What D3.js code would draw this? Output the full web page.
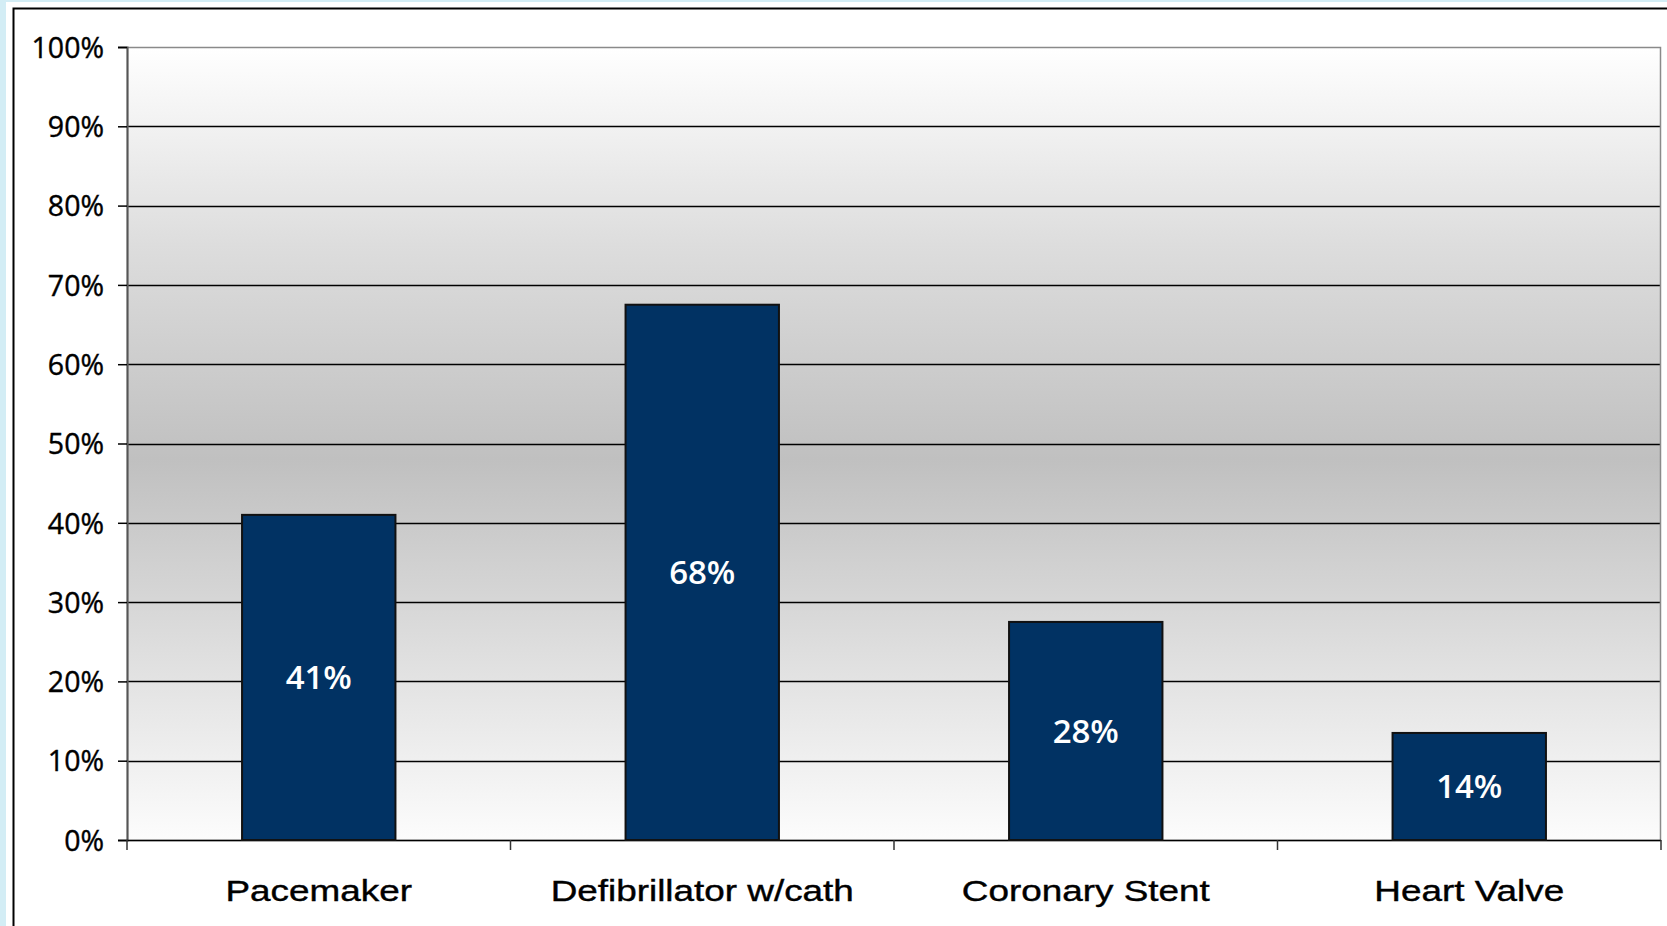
<!DOCTYPE html>
<html>
<head>
<meta charset="utf-8">
<script src="https://cdn.jsdelivr.net/npm/d3@7"></script>
<style>
  html, body { margin: 0; padding: 0; background: #ffffff; overflow: hidden; }
  svg { display: block; }
</style>
</head>
<body>
<svg id="chart" width="1667" height="926"></svg>
<script>
// ---- data ----
const categories = ["Pacemaker", "Defibrillator w/cath", "Coronary Stent", "Heart Valve"];
const values = [0.41, 0.675, 0.275, 0.135];
const valueLabels = ["41%", "68%", "28%", "14%"];
const yTicks = [0, 0.1, 0.2, 0.3, 0.4, 0.5, 0.6, 0.7, 0.8, 0.9, 1.0];
const yTickLabels = ["0%", "10%", "20%", "30%", "40%", "50%", "60%", "70%", "80%", "90%", "100%"];

// ---- layout ----
const W = 1667, H = 926;
const plot = { left: 127, right: 1661, top: 47, bottom: 840 };

const svg = d3.select("#chart");

// page background: light blue strip + framed white panel
svg.append("rect").attr("x", 0).attr("y", 0).attr("width", W).attr("height", H).attr("fill", "#d3edf5");
svg.append("rect").attr("x", 6).attr("y", 2).attr("width", W).attr("height", H).attr("fill", "#ffffff");
svg.append("rect").attr("x", 13.5).attr("y", 8.5).attr("width", W + 10).attr("height", H + 10)
  .attr("fill", "#ffffff").attr("stroke", "#000").attr("stroke-width", 2);

// gradient for plot area
const defs = svg.append("defs");
const grad = defs.append("linearGradient").attr("id", "bg").attr("x1", 0).attr("y1", 0).attr("x2", 0).attr("y2", 1);
grad.append("stop").attr("offset", "0%").attr("stop-color", "#ffffff");
grad.append("stop").attr("offset", "25%").attr("stop-color", "#dddddd");
grad.append("stop").attr("offset", "52%").attr("stop-color", "#c0c0c0");
grad.append("stop").attr("offset", "80%").attr("stop-color", "#e3e3e3");
grad.append("stop").attr("offset", "100%").attr("stop-color", "#fcfcfc");

const x = d3.scaleBand().domain(categories).range([plot.left, plot.right]).padding(0);
const y = d3.scaleLinear().domain([0, 1]).range([plot.bottom, plot.top]);

// plot background
svg.append("rect")
  .attr("x", plot.left).attr("y", plot.top)
  .attr("width", plot.right - plot.left).attr("height", plot.bottom - plot.top)
  .attr("fill", "url(#bg)");

// gridlines
svg.append("g").selectAll("line").data(yTicks.filter(t => t > 0 && t < 1)).join("line")
  .attr("x1", plot.left).attr("x2", plot.right)
  .attr("y1", d => Math.round(y(d)) + 0.5).attr("y2", d => Math.round(y(d)) + 0.5)
  .attr("stroke", "#000").attr("stroke-width", 1.3);

// plot border (gray)
svg.append("rect")
  .attr("x", plot.left + 0.5).attr("y", plot.top + 0.5)
  .attr("width", plot.right - plot.left - 1).attr("height", plot.bottom - plot.top)
  .attr("fill", "none").attr("stroke", "#8a8a8a").attr("stroke-width", 1.5);

// y axis
const yAxis = d3.axisLeft(y).tickValues(yTicks).tickSize(9).tickPadding(14)
  .tickFormat((d, i) => yTickLabels[i]);
const gy = svg.append("g").attr("transform", `translate(${plot.left},0)`).call(yAxis);
gy.select(".domain").attr("stroke", "#555").attr("stroke-width", 2);
gy.selectAll(".tick line").attr("stroke", "#000").attr("stroke-width", 1.5);
gy.selectAll(".tick text")
  .attr("font-family", "'Open Sans', sans-serif").attr("font-size", 28.5).attr("font-weight", 500)
  .attr("fill", "#000").attr("stroke", "#000").attr("stroke-width", 0.4).attr("dy", "0.36em");

// x axis baseline + category ticks
const bounds = categories.map(c => x(c)).concat([plot.right]);
svg.append("line").attr("x1", plot.left).attr("x2", plot.right)
  .attr("y1", plot.bottom + 0.5).attr("y2", plot.bottom + 0.5)
  .attr("stroke", "#000").attr("stroke-width", 1.5);
svg.append("g").selectAll("line").data(bounds).join("line")
  .attr("x1", d => d).attr("x2", d => d)
  .attr("y1", plot.bottom).attr("y2", plot.bottom + 10)
  .attr("stroke", "#333").attr("stroke-width", 1.5);

// bars
const barW = x.bandwidth() * 0.4;
svg.append("g").selectAll("rect").data(values).join("rect")
  .attr("x", (d, i) => x(categories[i]) + (x.bandwidth() - barW) / 2)
  .attr("y", d => y(d))
  .attr("width", barW)
  .attr("height", d => y(0) - y(d))
  .attr("fill", "#013263").attr("stroke", "#111").attr("stroke-width", 2);

// value labels
svg.append("g").selectAll("text").data(values).join("text")
  .attr("x", (d, i) => x(categories[i]) + x.bandwidth() / 2)
  .attr("y", d => (y(d) + y(0)) / 2)
  .attr("dy", "0.36em")
  .attr("text-anchor", "middle")
  .attr("font-family", "'Open Sans', sans-serif").attr("font-size", 33).attr("font-weight", 600)
  .attr("fill", "#ffffff")
  .text((d, i) => valueLabels[i]);

// category labels (horizontally stretched like reference)
svg.append("g").selectAll("text").data(categories).join("text")
  .attr("transform", d => `translate(${x(d) + x.bandwidth() / 2},901) scale(1.25,1)`)
  .attr("text-anchor", "middle")
  .attr("font-family", "'Liberation Sans', Arial, sans-serif").attr("font-size", 29.5)
  .attr("fill", "#000").attr("stroke", "#000").attr("stroke-width", 0.4)
  .text(d => d);
</script>
</body>
</html>
